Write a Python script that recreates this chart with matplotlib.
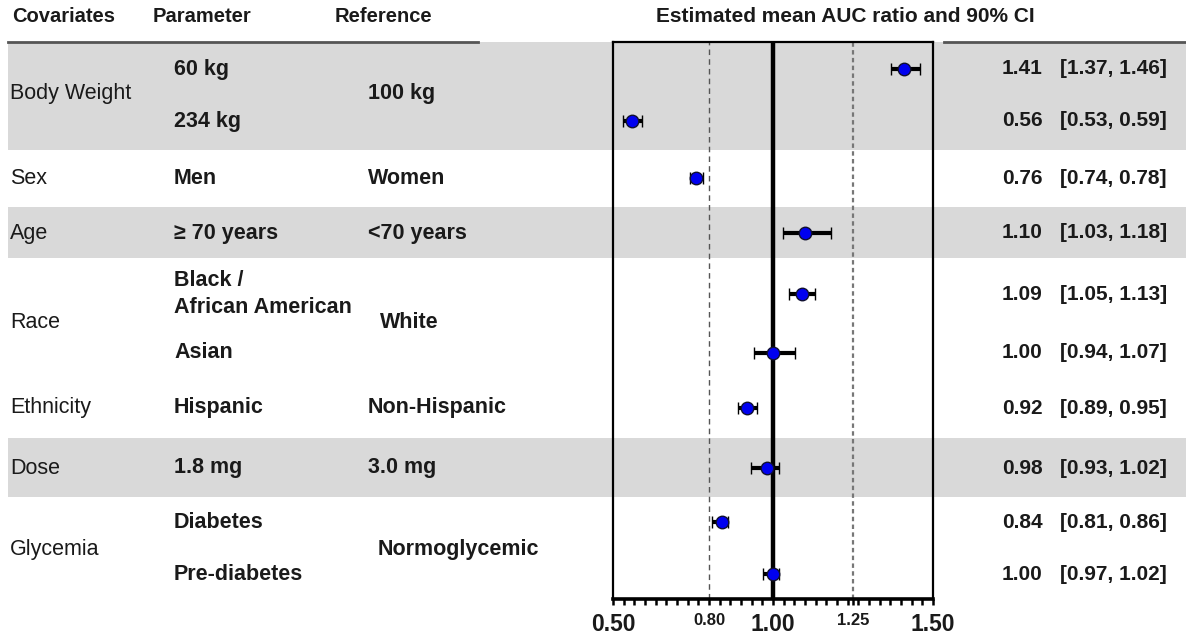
import matplotlib.pyplot as plt
from matplotlib.ticker import MultipleLocator

plt.rcParams['font.family'] = ['Liberation Sans', 'DejaVu Sans']

# data
covariates = ['Body Weight', 'Sex', 'Age', 'Race', 'Ethnicity', 'Dose', 'Glycemia']
parameters = ['60 kg', '234 kg', 'Men', '\u2265 70 years', 'Black /\nAfrican American',
              'Asian', 'Hispanic', '1.8 mg', 'Diabetes', 'Pre-diabetes']
references = ['100 kg', 'Women', '<70 years', 'White', 'Non-Hispanic', '3.0 mg', 'Normoglycemic']
means = [1.41, 0.56, 0.76, 1.10, 1.09, 1.00, 0.92, 0.98, 0.84, 1.00]
lower = [1.37, 0.53, 0.74, 1.03, 1.05, 0.94, 0.89, 0.93, 0.81, 0.97]
upper = [1.46, 0.59, 0.78, 1.18, 1.13, 1.07, 0.95, 1.02, 0.86, 1.02]

# layout (pixel rows)
row_y = [69, 121, 178, 233, 294, 353, 408, 468, 522, 574]
group_y = [94, 178, 233, 322, 408, 468, 549]
ref_x = [368, 368, 368, 380, 368, 368, 378]
bands = [(42, 150), (207, 258), (438, 497)]

fig = plt.figure(figsize=(11.86, 6.38), dpi=100)
bg = fig.add_axes([0, 0, 1, 1])
bg.set_xlim(0, 1186)
bg.set_ylim(638, 0)
bg.axis('off')

for b0, b1 in bands:
    bg.fill_between([8, 1186], b0, b1, color='#d9d9d9', lw=0)

txt = '#1a1a1a'
hsize = 14.5
bsize = 15.5
bg.text(12, 17, 'Covariates', fontsize=hsize, fontweight='bold', color=txt, va='center')
bg.text(153, 17, 'Parameter', fontsize=hsize, fontweight='bold', color=txt, va='center')
bg.text(335, 17, 'Reference', fontsize=hsize, fontweight='bold', color=txt, va='center')
bg.text(845, 17, 'Estimated mean AUC ratio and 90% CI', fontsize=15, fontweight='bold',
        color=txt, va='center', ha='center')
bg.plot([8, 478], [42, 42], color='#555555', lw=2)
bg.plot([944, 1186], [42, 42], color='#555555', lw=2)

for name, y in zip(covariates, group_y):
    bg.text(10, y, name, fontsize=bsize, color=txt, va='center')
for name, x, y in zip(references, ref_x, group_y):
    bg.text(x, y, name, fontsize=bsize, fontweight='bold', color=txt, va='center')
for name, y in zip(parameters, row_y):
    bg.text(174, y, name, fontsize=bsize, fontweight='bold', color=txt, va='center',
            linespacing=1.4)
for m, lo, hi, y in zip(means, lower, upper, row_y):
    bg.text(1002, y, f'{m:.2f}', fontsize=15, fontweight='bold', color=txt, va='center')
    bg.text(1060, y, f'[{lo:.2f}, {hi:.2f}]', fontsize=15, fontweight='bold', color=txt,
            va='center')

# forest panel
ax = fig.add_axes([613 / 1186, (638 - 599) / 638, 320 / 1186, 557 / 638])
ax.set_facecolor('none')
ax.set_xlim(0.5, 1.5)
ax.set_ylim(599, 42)
ax.axvline(1.0, color='black', lw=3.2, zorder=2)
ax.axvline(0.8, color='#555555', lw=1, ls=(0, (4, 3)), zorder=1)
ax.axvline(1.25, color='#777777', lw=1.6, ls=(0, (2, 1.5)), zorder=1)
xerr = [[m - lo for m, lo in zip(means, lower)], [hi - m for m, hi in zip(means, upper)]]
ax.errorbar(means, row_y, xerr=xerr, fmt='o', color='black', ecolor='black', elinewidth=3,
            capsize=4.2, capthick=2.8, markersize=9, markerfacecolor='#0000f0',
            markeredgecolor='#101030', markeredgewidth=1, zorder=3)
for s in ax.spines.values():
    s.set_linewidth(1.6)
ax.spines['bottom'].set_linewidth(2.6)
ax.set_yticks([])
ax.set_xticks([0.5, 0.8, 1.0, 1.25, 1.5])
ax.set_xticklabels(['0.50', '0.80', '1.00', '1.25', '1.50'])
for lab, size in zip(ax.get_xticklabels(), [16.5, 12, 16.5, 12, 16.5]):
    lab.set_fontsize(size)
    lab.set_fontweight('bold')
    lab.set_color(txt)
ax.xaxis.set_minor_locator(MultipleLocator(1 / 30))
ax.tick_params(axis='x', which='both', direction='out', length=4, width=1.8, pad=6)

fig.savefig('out.png', dpi=100)
